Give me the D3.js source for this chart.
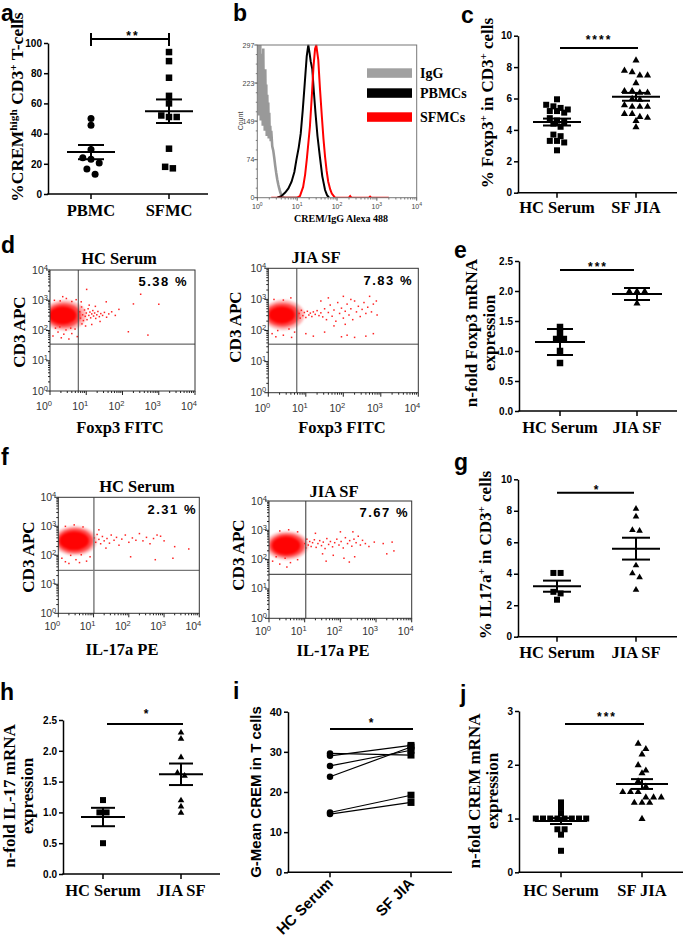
<!DOCTYPE html>
<html><head><meta charset="utf-8">
<script src="https://cdn.jsdelivr.net/npm/d3@7"></script>
<style>body{margin:0;background:#fff}svg{display:block}</style>
</head><body>
<script>
// ===================== DATA =====================
// a
const aCats = ["PBMC", "SFMC"];
const aPBMC = [50, 45.5, 29.5, 24, 23, 20.5, 16.5, 13];
const aSFMC = [94, 88, 77, 65, 60, 52, 51, 51, 30, 17, 18];
const aTicks = [0, 20, 40, 60, 80, 100];
const aSig = "**";
// b (x = log10 intensity, y = count)
const bTicksY = [0, 74, 149, 223, 297];
const bTicksX = [0, 1, 2, 3, 4];
const bLegend = ["IgG", "PBMCs", "SFMCs"];
const bIgG = [[0,297],[0.0125,200],[0.025,297],[0.0375,160],[0.05,290],[0.0625,230],[0.075,297],[0.0875,150],[0.1,280],[0.1125,210],[0.125,260],[0.1375,140],[0.15,290],[0.1625,170],[0.175,240],[0.1875,130],[0.2,250],[0.2125,160],[0.225,220],[0.2375,120],[0.25,200],[0.2625,140],[0.275,185],[0.2875,115],[0.3,165],[0.3125,120],[0.325,140],[0.3375,110],[0.35,130],[0.375,100],[0.4,92],[0.425,78],[0.45,62],[0.475,48],[0.5,36],[0.525,26],[0.55,18],[0.575,11],[0.6,6],[0.625,3],[0.65,1],[0.7,0],[1.0,0]];
const bPBMC = [[0.5,0],[0.6,3],[0.7,10],[0.78,18],[0.86,31],[0.93,50],[0.98,73],[1.04,98],[1.09,125],[1.14,170],[1.19,222],[1.24,275],[1.28,297],[1.31,282],[1.34,265],[1.38,250],[1.42,205],[1.46,165],[1.51,120],[1.57,80],[1.63,42],[1.7,15],[1.75,5],[1.8,0]];
const bSFMC = [[0.35,0],[1.0,0],[1.07,3],[1.15,21],[1.2,45],[1.24,73],[1.28,105],[1.32,138],[1.37,200],[1.41,255],[1.45,290],[1.48,297],[1.5,285],[1.53,268],[1.57,215],[1.62,158],[1.66,115],[1.7,80],[1.74,52],[1.78,31],[1.83,16],[1.87,8],[1.95,0],[2.3,0],[2.33,3],[2.36,0],[2.8,0],[2.83,2],[2.86,0],[3.3,0]];
// c
const cCats = ["HC Serum", "SF JIA"];
const cHC = [5.95, 5.6, 5.5, 5.4, 5.3, 5.2, 5.2, 5.1, 4.75, 4.6, 4.5, 4.4, 4.2, 3.7, 3.6, 3.3, 3.3, 3.2, 2.7];
const cSF = [8.45, 7.8, 7.7, 7.5, 7.5, 7.0, 6.4, 6.4, 6.5, 6.5, 6.0, 5.95, 5.6, 5.5, 5.5, 5.5, 5.05, 5.05, 4.85, 4.8, 4.6, 4.2];
const cTicks = [0, 2, 4, 6, 8, 10];
const cSig = "****";
// d (flow plots, log10 units)
const dTitles = ["HC Serum", "JIA SF"];
const dPct = ["5.38 %", "7.83 %"];
const dHCcore = [[0.4,2.5,0.6,0.5],[0.38,2.5,0.48,0.4],[0.35,2.5,0.38,0.3]];
const dSFcore = [[0.4,2.5,0.56,0.48],[0.38,2.5,0.46,0.38],[0.36,2.5,0.35,0.28]];
const dHCevents = [[0.82,2.62],[0.84,2.41],[0.87,2.78],[0.9,2.52],[0.92,2.33],[0.95,2.68],[0.97,2.47],[1.0,2.58],[1.02,2.36],[1.05,2.72],[1.07,2.5],[1.1,2.61],[1.12,2.42],[1.15,2.55],[1.18,2.66],[1.2,2.48],[1.23,2.58],[1.26,2.4],[1.29,2.52],[1.32,2.63],[1.36,2.46],[1.4,2.56],[1.45,2.5],[1.5,2.6],[1.56,2.44],[1.62,2.55],[1.7,2.62],[1.8,2.5],[0.88,2.22],[1.08,2.84],[1.25,2.8],[0.98,2.15],[1.38,2.3],[0.86,2.95],[1.15,2.2],[1.01,3.36],[2.3,2.88],[2.5,3.2],[3.0,2.87],[2.16,1.96],[2.7,1.85],[1.9,2.7],[1.55,2.95],[0.08,1.82],[0.22,1.95],[0.31,1.76],[0.44,2.02],[0.52,1.72],[0.6,1.9],[0.69,2.05],[0.75,1.8],[0.15,2.08],[0.38,1.88],[0.57,2.08],[0.27,2.12],[0.12,3.0],[0.28,2.98],[0.45,3.06],[0.6,2.96],[0.72,3.02],[0.35,3.12]];
const dSFevents = [[0.82,2.55],[0.85,2.4],[0.88,2.65],[0.92,2.48],[0.96,2.58],[1.0,2.42],[1.04,2.62],[1.08,2.5],[1.12,2.56],[1.16,2.45],[1.2,2.6],[1.25,2.52],[1.3,2.64],[1.35,2.48],[1.4,2.57],[1.45,2.44],[1.5,2.7],[1.55,2.35],[1.6,2.58],[1.65,2.82],[1.7,2.46],[1.75,2.66],[1.8,2.3],[1.85,2.9],[1.9,2.55],[1.95,2.72],[2.0,2.4],[2.05,2.62],[2.1,2.85],[2.15,2.5],[2.2,2.7],[2.25,2.35],[2.3,2.95],[2.35,2.6],[2.4,2.78],[2.45,2.45],[2.5,2.68],[2.55,2.9],[2.6,2.55],[2.65,2.75],[2.7,3.1],[2.75,2.6],[2.8,2.85],[2.88,2.95],[2.9,2.5],[1.4,2.95],[1.6,3.05],[2.0,3.1],[2.2,3.0],[1.75,2.15],[2.05,2.2],[1.2,1.82],[1.5,1.95],[1.95,1.8],[2.1,1.85],[2.3,1.78],[2.6,1.82],[2.8,1.9],[1.0,1.9],[0.1,1.9],[0.25,2.0],[0.4,1.85],[0.55,2.05],[0.7,1.95],[0.2,1.8],[0.62,1.78],[0.15,3.0],[0.4,2.98],[0.6,3.05]];
// e
const eCats = ["HC Serum", "JIA SF"];
const eHC = [1.4, 1.3, 1.2, 1.2, 1.0, 0.8];
const eSF = [2.0, 2.0, 2.0, 1.8];
const eTicks = [0, 0.5, 1.0, 1.5, 2.0, 2.5];
const eSig = "***";
// f
const fTitles = ["HC Serum", "JIA SF"];
const fPct = ["2.31 %", "7.67 %"];
const fHCcore = [[0.47,2.5,0.62,0.5],[0.47,2.5,0.52,0.42],[0.45,2.5,0.42,0.33]];
const fSFcore = [[0.5,2.48,0.6,0.48],[0.5,2.48,0.5,0.4],[0.48,2.48,0.4,0.32]];
const fHCevents = [[1.02,2.6],[1.06,2.45],[1.1,2.72],[1.15,2.55],[1.2,2.4],[1.25,2.65],[1.3,2.5],[1.38,2.58],[1.45,2.42],[1.5,2.7],[1.58,2.52],[1.65,2.62],[1.72,2.35],[1.8,2.56],[1.9,2.7],[2.0,2.45],[2.1,2.6],[2.2,2.52],[2.3,2.75],[2.4,2.5],[2.5,2.62],[2.6,2.4],[2.7,2.58],[2.8,2.7],[2.9,2.66],[3.0,2.5],[3.3,2.3],[3.7,2.22],[1.15,2.88],[1.35,2.25],[2.75,1.85],[2.05,1.95],[3.25,1.9],[0.1,1.9],[0.2,1.78],[0.35,2.0],[0.5,1.85],[0.65,2.02],[0.8,1.8],[0.9,1.95],[0.3,1.72],[0.6,1.75],[0.2,3.0],[0.45,3.05],[0.7,2.98]];
const fSFevents = [[1.0,2.55],[1.03,2.4],[1.06,2.7],[1.1,2.5],[1.14,2.62],[1.18,2.45],[1.22,2.58],[1.27,2.68],[1.32,2.42],[1.37,2.55],[1.42,2.65],[1.47,2.48],[1.52,2.6],[1.57,2.38],[1.62,2.72],[1.67,2.52],[1.72,2.62],[1.78,2.44],[1.84,2.58],[1.9,2.7],[1.96,2.5],[2.02,2.62],[2.08,2.4],[2.14,2.75],[2.2,2.55],[2.26,2.65],[2.32,2.46],[2.38,2.7],[2.44,2.58],[2.5,2.8],[2.56,2.5],[2.62,2.66],[2.7,2.55],[2.8,2.45],[2.95,2.6],[3.2,2.55],[3.45,2.6],[3.3,2.2],[3.5,2.3],[1.5,2.2],[1.8,2.15],[2.1,2.05],[2.4,2.1],[1.3,2.9],[2.0,2.95],[2.35,2.95],[1.6,1.95],[2.25,1.92],[0.1,1.95],[0.3,1.85],[0.45,2.05],[0.6,1.9],[0.8,2.0],[0.2,2.1],[0.5,1.75],[0.3,2.98],[0.55,3.02],[0.8,2.95]];
// g
const gCats = ["HC Serum", "JIA SF"];
const gHC = [4.05, 4.05, 2.85, 2.75, 2.35];
const gSF = [8.15, 7.65, 6.8, 6.75, 4.55, 4.05, 3.8, 3.0];
const gTicks = [0, 2, 4, 6, 8, 10];
const gSig = "*";
// h
const hCats = ["HC Serum", "JIA SF"];
const hHC = [1.2, 1.0, 1.0, 0.5];
const hSF = [2.3, 2.2, 1.9, 1.65, 1.6, 1.2, 1.1, 1.0];
const hTicks = [0, 0.5, 1.0, 1.5, 2.0, 2.5];
const hSig = "*";
// i (paired)
const iCats = ["HC Serum", "SF JIA"];
const iHC = [29.6, 29.0, 26.5, 23.8, 14.9, 14.5];
const iSF = [29.2, 31.6, 30.4, 31.2, 19.2, 17.4];
const iTicks = [0, 10, 20, 30, 40];
const iSig = "*";
// j
const jCats = ["HC Serum", "SF JIA"];
const jHC = [1.3, 1.2, 1.1, 1.0, 1.0, 1.0, 1.0, 1.0, 1.0, 1.0, 1.0, 0.8, 0.8, 0.7, 0.4];
const jSF = [2.4, 2.3, 2.2, 2.0, 1.9, 1.85, 1.7, 1.6, 1.5, 1.5, 1.5, 1.4, 1.4, 1.4, 1.3, 1.3, 1.3, 1.0];
const jTicks = [0, 1, 2, 3];
const jSig = "***";

// ===================== DRAWING =====================
const W = 685, H = 945;
const SANS = "'Liberation Sans', Arial, Helvetica, sans-serif";
const SERIF = "'Liberation Serif', 'Times New Roman', Times, serif";
const svg = d3.select("body").append("svg").attr("width", W).attr("height", H);
svg.append("rect").attr("width", W).attr("height", H).attr("fill", "#fff");
const defs = svg.append("defs");
defs.append("filter").attr("id", "soft").attr("x", "-20%").attr("y", "-20%").attr("width", "140%").attr("height", "140%")
  .append("feGaussianBlur").attr("stdDeviation", 1.1);

function rich(t, segs, fs) {
  segs.forEach(s => {
    const ts = t.append("tspan").text(s[0]);
    if (s[1] === "sup") ts.attr("baseline-shift", "super").attr("font-size", fs * 0.65);
  });
}

function panelLetter(txt, x, y) {
  svg.append("text").attr("x", x).attr("y", y).text(txt)
    .attr("font-family", SANS).attr("font-weight", "bold").attr("font-size", 23).attr("fill", "#000");
}

function styleAxis(sel, fs, font) {
  sel.attr("font-family", font || SANS).attr("font-size", fs);
  sel.select(".domain").attr("stroke", "#000").attr("stroke-width", 1.5);
  sel.selectAll(".tick line").attr("stroke", "#000").attr("stroke-width", 1.5);
  sel.selectAll(".tick text").attr("font-family", font || SANS).attr("font-weight", "bold")
    .attr("font-size", fs).attr("fill", "#000");
}

function drawMarker(g, shape, cx, cy, s) {
  if (shape === "circle") g.append("circle").attr("cx", cx).attr("cy", cy).attr("r", s / 2).attr("fill", "#000");
  else if (shape === "square") g.append("rect").attr("x", cx - s / 2).attr("y", cy - s / 2).attr("width", s).attr("height", s).attr("fill", "#000");
  else {
    const h = s * 0.95;
    g.append("path").attr("d", `M${cx},${cy - h * 0.6}L${cx + s / 2 + 0.3},${cy + h * 0.4}L${cx - s / 2 - 0.3},${cy + h * 0.4}Z`).attr("fill", "#000");
  }
}

function swarm(vals, y, size) {
  const pts = vals.map(v => ({ v, py: y(v), dx: 0 })).sort((a, b) => a.py - b.py);
  const rows = []; let cur = null;
  for (const p of pts) {
    if (!cur || p.py - cur[0].py > size * 0.85) { cur = [p]; rows.push(cur); } else cur.push(p);
  }
  rows.forEach(r => r.forEach((p, i) => p.dx = (i - (r.length - 1) / 2) * (size + 1.2)));
  return pts;
}

function yLabel(o) {
  o.lines.forEach(l => {
    const t = svg.append("text").attr("transform", `translate(${l.x},${o.cy}) rotate(-90)`)
      .attr("text-anchor", "middle").attr("font-family", o.font || SERIF).attr("font-weight", "bold")
      .attr("font-size", o.fs).attr("fill", "#000");
    rich(t, l.segs, o.fs);
  });
}

function scatterPanel(o) {
  const g = svg.append("g");
  const y = d3.scaleLinear().domain(o.domain).range([o.yBot, o.yTop]);
  const x = d3.scalePoint().domain(o.cats).range(o.catX);
  const ax = g.append("g").attr("transform", `translate(${o.x0},0)`)
    .call(d3.axisLeft(y).tickValues(o.ticks).tickFormat(o.fmt).tickSize(4).tickSizeOuter(0).tickPadding(2));
  styleAxis(ax, o.tickFs || 10);
  g.append("line").attr("x1", o.x0 - 0.75).attr("x2", o.x1).attr("y1", o.yBot).attr("y2", o.yBot)
    .attr("stroke", "#000").attr("stroke-width", 1.5);
  o.cats.forEach(c => g.append("line").attr("x1", x(c)).attr("x2", x(c)).attr("y1", o.yBot).attr("y2", o.yBot + 5)
    .attr("stroke", "#000").attr("stroke-width", 1.5));
  if (o.pairs) {
    o.pairs[0].forEach((v, i) => {
      g.append("line").attr("x1", x(o.cats[0])).attr("y1", y(v)).attr("x2", x(o.cats[1])).attr("y2", y(o.pairs[1][i]))
        .attr("stroke", "#000").attr("stroke-width", 1.2);
    });
    o.pairs[0].forEach(v => drawMarker(g, "circle", x(o.cats[0]), y(v), 6.5));
    o.pairs[1].forEach(v => drawMarker(g, "square", x(o.cats[1]), y(v), 7));
  } else {
    o.groups.forEach(grp => {
      const cx = x(grp.cat);
      swarm(grp.vals, y, grp.size).forEach(p => drawMarker(g, grp.shape, cx + p.dx, p.py, grp.size));
      const m = d3.mean(grp.vals);
      const sd = d3.deviation(grp.vals);
      const e = grp.err === "sd" ? sd : sd / Math.sqrt(grp.vals.length);
      const ln = (x1, y1, x2, y2) => g.append("line").attr("x1", x1).attr("y1", y1).attr("x2", x2).attr("y2", y2)
        .attr("stroke", "#000").attr("stroke-width", 2);
      ln(cx - o.mw, y(m), cx + o.mw, y(m));
      ln(cx, y(m - e), cx, y(m + e));
      ln(cx - o.cw, y(m - e), cx + o.cw, y(m - e));
      ln(cx - o.cw, y(m + e), cx + o.cw, y(m + e));
    });
  }
  // significance
  const s = o.sig;
  g.append("line").attr("x1", s.x1).attr("x2", s.x2).attr("y1", s.y).attr("y2", s.y).attr("stroke", "#000").attr("stroke-width", 2);
  if (s.caps) [s.x1, s.x2].forEach(xx => g.append("line").attr("x1", xx).attr("x2", xx)
    .attr("y1", s.y - s.caps[0]).attr("y2", s.y + s.caps[1]).attr("stroke", "#000").attr("stroke-width", 2));
  g.append("text").attr("x", s.tx).attr("y", s.tb).attr("text-anchor", "middle").text(s.text)
    .attr("font-family", SANS).attr("font-weight", "bold").attr("font-size", 12).attr("letter-spacing", 2).attr("fill", "#000");
  // category labels
  o.cats.forEach(c => {
    if (o.rot) {
      g.append("text").attr("transform", `translate(${x(c) + 4},${o.yBot + 12}) rotate(-45)`)
        .attr("text-anchor", "end").text(c).attr("font-family", SANS).attr("font-weight", "bold")
        .attr("font-size", 15).attr("fill", "#000");
    } else {
      g.append("text").attr("x", x(c)).attr("y", o.catY).attr("text-anchor", "middle").text(c)
        .attr("font-family", SERIF).attr("font-weight", "bold").attr("font-size", 16.5).attr("fill", "#000");
    }
  });
  yLabel(o.ylab);
}

function logTickLabel(g, x, y, k, fs, anchor, fill) {
  const t = g.append("text").attr("x", x).attr("y", y).attr("text-anchor", anchor)
    .attr("font-family", SANS).attr("font-size", fs).attr("fill", fill);
  t.append("tspan").text("10");
  t.append("tspan").text(k).attr("baseline-shift", "super").attr("font-size", fs * 0.72);
}

let clipN = 0;
function flowPlot(o) {
  const g = svg.append("g");
  const x = d3.scaleLinear().domain([0, 4]).range([o.x0, o.x1]);
  const y = d3.scaleLinear().domain([0, 4]).range([o.y1, o.y0]);
  const id = "clip" + (clipN++);
  defs.append("clipPath").attr("id", id).append("rect").attr("x", o.x0).attr("y", o.y0)
    .attr("width", o.x1 - o.x0).attr("height", o.y1 - o.y0);
  const inner = g.append("g").attr("clip-path", `url(#${id})`);
  const blob = inner.append("g").attr("filter", "url(#soft)");
  const alphas = [0.3, 0.6, 0.95];
  o.core.forEach((c, i) => blob.append("ellipse").attr("cx", x(c[0])).attr("cy", y(c[1]))
    .attr("rx", x(c[2]) - x(0)).attr("ry", y(0) - y(c[3])).attr("fill", "#f00").attr("opacity", alphas[i]));
  o.events.forEach(e => inner.append("rect").attr("x", x(e[0]) - 0.7).attr("y", y(e[1]) - 0.7)
    .attr("width", 1.5).attr("height", 1.5).attr("fill", "#f22"));
  // quadrant lines
  g.append("line").attr("x1", x(o.quad[0])).attr("x2", x(o.quad[0])).attr("y1", o.y0).attr("y2", o.y1)
    .attr("stroke", o.qc).attr("stroke-width", o.qw);
  g.append("line").attr("x1", o.x0).attr("x2", o.x1).attr("y1", y(o.quad[1])).attr("y2", y(o.quad[1]))
    .attr("stroke", o.qc).attr("stroke-width", o.qw);
  g.append("rect").attr("x", o.x0).attr("y", o.y0).attr("width", o.x1 - o.x0).attr("height", o.y1 - o.y0)
    .attr("fill", "none").attr("stroke", "#333").attr("stroke-width", 1);
  // ticks
  for (let k = 0; k <= 4; k++) {
    g.append("line").attr("x1", o.x0 - 4).attr("x2", o.x0).attr("y1", y(k)).attr("y2", y(k)).attr("stroke", "#222");
    g.append("line").attr("x1", x(k)).attr("x2", x(k)).attr("y1", o.y1).attr("y2", o.y1 + 4).attr("stroke", "#222");
    if (k < 4) for (let m = 2; m <= 9; m++) {
      const v = k + Math.log10(m);
      g.append("line").attr("x1", o.x0 - 2).attr("x2", o.x0).attr("y1", y(v)).attr("y2", y(v)).attr("stroke", "#222");
      g.append("line").attr("x1", x(v)).attr("x2", x(v)).attr("y1", o.y1).attr("y2", o.y1 + 2).attr("stroke", "#222");
    }
    logTickLabel(g, o.x0 - 2, y(k) + 3.5, k, 10.5, "end", "#333");
    logTickLabel(g, x(k) + 2, o.y1 + o.bl, k, 10.5, "end", "#333");
  }
  g.append("text").attr("x", o.tx).attr("y", o.ty).attr("text-anchor", "middle").text(o.title)
    .attr("font-family", SERIF).attr("font-weight", "bold").attr("font-size", 16.5).attr("fill", "#000");
  g.append("text").attr("x", o.px).attr("y", o.py).attr("text-anchor", "end").text(o.pct)
    .attr("font-family", SANS).attr("font-weight", "bold").attr("font-size", 13).attr("letter-spacing", 1.5).attr("fill", "#000");
  g.append("text").attr("transform", `translate(${o.ylx},${o.yly}) rotate(-90)`).attr("text-anchor", "middle")
    .text("CD3 APC").attr("font-family", SERIF).attr("font-weight", "bold").attr("font-size", 17).attr("fill", "#000");
  g.append("text").attr("x", o.xlx).attr("y", o.xly).attr("text-anchor", "middle").text(o.xlab)
    .attr("font-family", SERIF).attr("font-weight", "bold").attr("font-size", 16.5).attr("fill", "#000");
}

// ---------- panel a ----------
panelLetter("a", 1, 21);
scatterPanel({
  x0: 48, x1: 208, yTop: 43, yBot: 194, domain: [0, 100], ticks: aTicks, fmt: d3.format("d"),
  cats: aCats, catX: [91, 169],
  groups: [{ cat: aCats[0], vals: aPBMC, shape: "circle", size: 7, err: "sem" },
           { cat: aCats[1], vals: aSFMC, shape: "square", size: 6.5, err: "sem" }],
  mw: 24, cw: 13, sig: { x1: 91, x2: 169, y: 39, caps: [6, 7], text: aSig, tx: 133, tb: 40 }, catY: 216,
  ylab: { cy: 107, fs: 17.5, lines: [{ x: 23, segs: [["%CREM"], ["high", "sup"], [" CD3"], ["+", "sup"], [" T-cells"]] }] }
});

// ---------- panel b ----------
panelLetter("b", 233, 21);
(function () {
  const X0 = 257.3, X1 = 416.7, Y0 = 45, Y1 = 197.7;
  const x = d3.scaleLinear().domain([0, 4]).range([X0, X1]);
  const y = d3.scaleLinear().domain([0, 297]).range([Y1, Y0]);
  const g = svg.append("g");
  defs.append("clipPath").attr("id", "clipb").append("rect").attr("x", X0).attr("y", Y0 - 1).attr("width", X1 - X0).attr("height", Y1 - Y0 + 1);
  const inner = g.append("g").attr("clip-path", "url(#clipb)");
  const line = d3.line().x(d => x(d[0])).y(d => y(d[1]));
  inner.append("path").datum(bIgG).attr("d", line).attr("fill", "none").attr("stroke", "#999").attr("stroke-width", 2.6);
  inner.append("path").datum(bPBMC).attr("d", line).attr("fill", "none").attr("stroke", "#000").attr("stroke-width", 2);
  inner.append("path").datum(bSFMC).attr("d", line).attr("fill", "none").attr("stroke", "#f00").attr("stroke-width", 2);
  g.append("rect").attr("x", X0).attr("y", Y0).attr("width", X1 - X0).attr("height", Y1 - Y0)
    .attr("fill", "none").attr("stroke", "#777").attr("stroke-width", 1);
  bTicksY.forEach(v => {
    g.append("line").attr("x1", X0 - 3).attr("x2", X0).attr("y1", y(v)).attr("y2", y(v)).attr("stroke", "#555");
    g.append("text").attr("x", X0 - 3).attr("y", y(v) + 2.5).attr("text-anchor", "end").text(v)
      .attr("font-family", SANS).attr("font-size", 7).attr("fill", "#444");
  });
  for (let i = 1; i < 16; i++) {
    const v = 297 * i / 16;
    g.append("line").attr("x1", X0 - 1.5).attr("x2", X0).attr("y1", y(v)).attr("y2", y(v)).attr("stroke", "#777");
  }
  bTicksX.forEach(k => {
    g.append("line").attr("x1", x(k)).attr("x2", x(k)).attr("y1", Y1).attr("y2", Y1 + 3).attr("stroke", "#555");
    if (k < 4) for (let m = 2; m <= 9; m++) {
      const v = k + Math.log10(m);
      g.append("line").attr("x1", x(v)).attr("x2", x(v)).attr("y1", Y1).attr("y2", Y1 + 1.8).attr("stroke", "#777");
    }
    logTickLabel(g, x(k), 209, k, 7, "middle", "#444");
  });
  g.append("text").attr("transform", `translate(243,121) rotate(-90)`).attr("text-anchor", "middle").text("Count")
    .attr("font-family", SANS).attr("font-size", 7).attr("fill", "#444");
  g.append("text").attr("x", 341).attr("y", 222).attr("text-anchor", "middle").text("CREM/IgG Alexa 488")
    .attr("font-family", SERIF).attr("font-weight", "bold").attr("font-size", 10).attr("fill", "#000");
  const lc = ["#a0a0a0", "#000", "#f00"], ly = [68.3, 88.3, 112.3];
  bLegend.forEach((t, i) => {
    g.append("rect").attr("x", 367).attr("y", ly[i]).attr("width", 45).attr("height", 9.5).attr("fill", lc[i]);
    g.append("text").attr("x", 420).attr("y", ly[i] + 9.5).text(t).attr("font-family", SERIF)
      .attr("font-weight", "bold").attr("font-size", 14).attr("fill", "#000");
  });
})();

// ---------- panel c ----------
panelLetter("c", 461, 23);
scatterPanel({
  x0: 518, x1: 677, yTop: 35.7, yBot: 192.7, domain: [0, 10], ticks: cTicks, fmt: d3.format("d"),
  cats: cCats, catX: [557, 636],
  groups: [{ cat: cCats[0], vals: cHC, shape: "square", size: 6, err: "sem" },
           { cat: cCats[1], vals: cSF, shape: "triangle", size: 6.5, err: "sem" }],
  mw: 24, cw: 14, sig: { x1: 560, x2: 638, y: 48, text: cSig, tx: 599, tb: 44 }, catY: 213,
  ylab: { cy: 103, fs: 17, lines: [{ x: 493, segs: [["% Foxp3"], ["+", "sup"], [" in CD3"], ["+", "sup"], [" cells"]] }] }
});

// ---------- panel d ----------
panelLetter("d", 1, 253);
flowPlot({ x0: 50, x1: 195, y0: 270, y1: 391, quad: [0.78, 1.55], qc: "#444", qw: 1, core: dHCcore, events: dHCevents, bl: 19,
  title: dTitles[0], tx: 119, ty: 264, pct: dPct[0], px: 188, py: 286, ylx: 25, yly: 332, xlab: "Foxp3 FITC", xlx: 120, xly: 433 });
flowPlot({ x0: 268.3, x1: 418.3, y0: 268.3, y1: 392.7, quad: [0.76, 1.56], qc: "#444", qw: 1, core: dSFcore, events: dSFevents, bl: 19,
  title: dTitles[1], tx: 316, ty: 263, pct: dPct[1], px: 413, py: 285, ylx: 241, yly: 327, xlab: "Foxp3 FITC", xlx: 342, xly: 433 });

// ---------- panel e ----------
panelLetter("e", 454, 258);
scatterPanel({
  x0: 519, x1: 677, yTop: 261, yBot: 411, domain: [0, 2.5], ticks: eTicks, fmt: d3.format(".1f"),
  cats: eCats, catX: [560, 637],
  groups: [{ cat: eCats[0], vals: eHC, shape: "square", size: 6.5, err: "sd" },
           { cat: eCats[1], vals: eSF, shape: "triangle", size: 6.5, err: "sd" }],
  mw: 25, cw: 13, sig: { x1: 560, x2: 634, y: 270, text: eSig, tx: 598, tb: 271 }, catY: 433,
  ylab: { cy: 333, fs: 17, lines: [{ x: 477, segs: [["n-fold Foxp3 mRNA"]] }, { x: 495, segs: [["expression"]] }] }
});

// ---------- panel f ----------
panelLetter("f", 1, 465);
flowPlot({ x0: 58.3, x1: 199.3, y0: 497.3, y1: 613.3, quad: [1.01, 1.48], qc: "#777", qw: 1.4, core: fHCcore, events: fHCevents, bl: 17,
  title: fTitles[0], tx: 137, ty: 492, pct: fPct[0], px: 197, py: 514, ylx: 33.5, yly: 557, xlab: "IL-17a PE", xlx: 122, xly: 655 });
flowPlot({ x0: 269, x1: 411.7, y0: 501, y1: 618.3, quad: [1.03, 1.5], qc: "#555", qw: 1.2, core: fSFcore, events: fSFevents, bl: 17,
  title: fTitles[1], tx: 334, ty: 497, pct: fPct[1], px: 409, py: 517, ylx: 243.5, yly: 555, xlab: "IL-17a PE", xlx: 333, xly: 656 });

// ---------- panel g ----------
panelLetter("g", 454, 470);
scatterPanel({
  x0: 518, x1: 677, yTop: 479.3, yBot: 636.7, domain: [0, 10], ticks: gTicks, fmt: d3.format("d"),
  cats: gCats, catX: [557, 636],
  groups: [{ cat: gCats[0], vals: gHC, shape: "square", size: 6, err: "sem" },
           { cat: gCats[1], vals: gSF, shape: "triangle", size: 6, err: "sem" }],
  mw: 24, cw: 14, sig: { x1: 557, x2: 634, y: 492.7, text: gSig, tx: 597, tb: 494.4 }, catY: 658,
  ylab: { cy: 555, fs: 17, lines: [{ x: 491, segs: [["% IL17a"], ["+", "sup"], [" in CD3"], ["+", "sup"], [" cells"]] }] }
});

// ---------- panel h ----------
panelLetter("h", 0, 700);
scatterPanel({
  x0: 63, x1: 220, yTop: 720, yBot: 874, domain: [0, 2.5], ticks: hTicks, fmt: d3.format(".1f"),
  cats: hCats, catX: [103, 181],
  groups: [{ cat: hCats[0], vals: hHC, shape: "square", size: 6, err: "sem" },
           { cat: hCats[1], vals: hSF, shape: "triangle", size: 6, err: "sem" }],
  mw: 22, cw: 12, sig: { x1: 107, x2: 183, y: 724, text: hSig, tx: 147, tb: 718 }, catY: 896,
  ylab: { cy: 796, fs: 17, lines: [{ x: 15, segs: [["n-fold IL-17 mRNA"]] }, { x: 33, segs: [["expression"]] }] }
});

// ---------- panel i ----------
panelLetter("i", 233, 699);
scatterPanel({
  x0: 288, x1: 452, yTop: 711.7, yBot: 872.3, domain: [0, 40], ticks: iTicks, fmt: d3.format("d"), tickFs: 11,
  cats: iCats, catX: [330, 411], pairs: [iHC, iSF], rot: true,
  sig: { x1: 330, x2: 413, y: 729, text: iSig, tx: 372, tb: 727.4 },
  ylab: { cy: 792, fs: 15, font: SANS, lines: [{ x: 261, segs: [["G-Mean CREM in T cells"]] }] }
});

// ---------- panel j ----------
panelLetter("j", 460, 702);
scatterPanel({
  x0: 519, x1: 683, yTop: 711, yBot: 872.3, domain: [0, 3], ticks: jTicks, fmt: d3.format("d"),
  cats: jCats, catX: [561, 642],
  groups: [{ cat: jCats[0], vals: jHC, shape: "square", size: 6, err: "sem" },
           { cat: jCats[1], vals: jSF, shape: "triangle", size: 6.5, err: "sem" }],
  mw: 26, cw: 11, sig: { x1: 565, x2: 644, y: 724, text: jSig, tx: 607, tb: 721.4 }, catY: 896,
  ylab: { cy: 791, fs: 17, lines: [{ x: 480, segs: [["n-fold CREM mRNA"]] }, { x: 498, segs: [["expression"]] }] }
});
</script>
</body></html>
